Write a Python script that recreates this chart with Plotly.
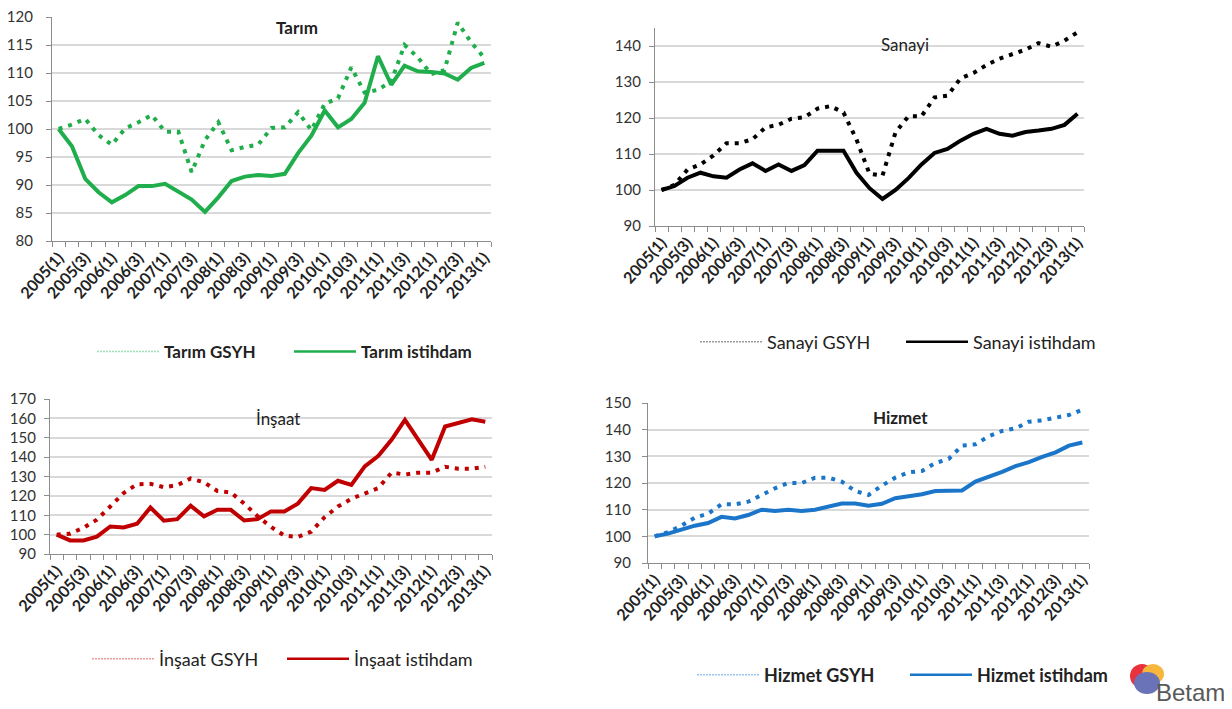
import plotly.graph_objects as go

quarters = [f"{y}({q})" for y in range(2005, 2013) for q in range(1, 5)] + ["2013(1)"]
tick_labels = quarters[::2]

tarim_gsyh = [100, 100.8, 101.8, 98.9, 97.2, 100.1, 101.2, 102.5, 99.5, 99.5, 92.3, 98.0, 101.2,
              96.2, 96.8, 97.2, 100.2, 100.3, 103.0, 99.8, 104.5, 105.5, 111.0, 106.5, 107.0,
              108.5, 115.0, 112.8, 109.8, 110.5, 119.0, 115.5, 112.7]
tarim_ist = [100, 96.9, 91.1, 88.7, 86.9, 88.2, 89.8, 89.8, 90.2, 88.8, 87.4, 85.2, 87.8,
             90.7, 91.5, 91.8, 91.6, 92.0, 95.7, 98.8, 103.3, 100.3, 101.8, 104.7, 113.0,
             107.9, 111.3, 110.3, 110.2, 109.9, 108.8, 110.9, 111.8]

sanayi_gsyh = [100, 101.4, 105.7, 107.1, 109.6, 113.0, 113.0, 114.1, 117.4, 118.1, 119.8, 120.2,
               122.6, 123.3, 121.5, 114.0, 104.5, 104.0, 116.0, 120.5, 120.5, 125.7, 126.2,
               131.0, 132.5, 134.7, 136.5, 137.8, 139.0, 140.8, 139.8, 141.5, 143.8]
sanayi_ist = [100, 101.1, 103.4, 104.8, 103.8, 103.4, 105.7, 107.4, 105.3, 107.1, 105.3, 106.9,
              110.9, 110.9, 110.9, 104.8, 100.5, 97.5, 100.0, 103.3, 107.1, 110.3, 111.4,
              113.7, 115.6, 117.0, 115.6, 115.1, 116.1, 116.5, 117.0, 118.1, 121.2]

insaat_gsyh = [100, 100.5, 103.5, 107.7, 114.5, 121.5, 126.0, 126.2, 124.5, 125.5, 129.0, 127.0,
               122.5, 121.8, 116.0, 109.5, 104.0, 99.5, 98.8, 101.5, 109.0, 114.5, 118.5,
               121.0, 124.0, 132.0, 131.0, 132.0, 132.0, 135.0, 134.0, 134.0, 135.0]
insaat_ist = [100, 97.0, 97.0, 99.0, 104.2, 103.7, 105.6, 114.0, 107.2, 108.0, 114.9, 109.4,
              112.8, 112.8, 107.3, 108.0, 112.0, 112.0, 116.0, 124.0, 123.1, 127.8, 125.7,
              135.2, 140.6, 148.9, 159.2, 148.9, 138.6, 155.8, 157.8, 159.5, 158.3]

hizmet_gsyh = [100, 101.6, 104.0, 107.0, 108.5, 112.0, 112.0, 113.0, 115.5, 118.0, 120.0, 120.0,
               122.0, 122.0, 120.5, 117.0, 115.5, 119.0, 122.0, 124.0, 124.5, 127.5, 129.0,
               134.0, 134.5, 137.5, 139.5, 140.5, 143.0, 143.5, 144.5, 145.5, 147.5]
hizmet_ist = [100, 101.0, 102.5, 104.0, 105.0, 107.3, 106.7, 108.0, 110.0, 109.5, 110.0, 109.5,
              110.0, 111.3, 112.3, 112.3, 111.5, 112.2, 114.3, 115.0, 115.8, 117.0, 117.2,
              117.2, 120.5, 122.2, 124.2, 126.3, 127.8, 129.8, 131.5, 134.0, 135.2]

W, H = 1232, 709
OFF = 8
FONT = "Lato"

def px(x):
    return (x - OFF) / W

def py(y):
    return 1 - (y - OFF) / H

panels = [
    dict(name="Tarım", gsyh=tarim_gsyh, ist=tarim_ist, color="#1fae4b", light="#9fe0b5",
         xd=(52, 491), yd=(17, 241), yr=(80, 120), dt=5, tpos=(297, 28), bold=True,
         ly=352, lx=84, ew=120, so=10, lfs=17),
    dict(name="Sanayi", gsyh=sanayi_gsyh, ist=sanayi_ist, color="#000000", light="#9a9a9a",
         xd=(655, 1084), yd=(28, 226), yr=(90, 145), dt=10, tpos=(905, 44), bold=False,
         ly=342, lx=687, ew=129, so=5, lfs=18),
    dict(name="İnşaat", gsyh=insaat_gsyh, ist=insaat_ist, color="#c00000", light="#ee9a9a",
         xd=(50, 492), yd=(399, 554), yr=(90, 170), dt=10, tpos=(278, 418), bold=False,
         ly=659, lx=79, ew=118, so=5, lfs=18),
    dict(name="Hizmet", gsyh=hizmet_gsyh, ist=hizmet_ist, color="#1b75c9", light="#9cc6ee",
         xd=(648, 1089), yd=(403, 563), yr=(90, 150), dt=10, tpos=(900, 417), bold=True,
         ly=675, lx=684, ew=136, so=8, lfs=18),
]

fig = go.Figure()
x = list(range(len(quarters)))
annotations = []
layout = {}
for i, p in enumerate(panels, start=1):
    xa = "x" if i == 1 else f"x{i}"
    ya = "y" if i == 1 else f"y{i}"
    lg = "legend" if i == 1 else f"legend{i}"
    fig.add_trace(go.Scatter(x=x, y=p["gsyh"], mode="lines", xaxis=xa, yaxis=ya,
                             line=dict(color=p["color"], width=4, dash="4px,6px"),
                             showlegend=False, hoverinfo="skip"))
    fig.add_trace(go.Scatter(x=x, y=p["ist"], mode="lines", xaxis=xa, yaxis=ya,
                             line=dict(color=p["color"], width=4),
                             showlegend=False, hoverinfo="skip"))
    fig.add_trace(go.Scatter(x=[None], y=[None], mode="lines", xaxis=xa, yaxis=ya,
                             name=f"{p['name']} GSYH", legend=lg,
                             line=dict(color=p["light"], width=1.5, dash="2px,1px")))
    fig.add_trace(go.Scatter(x=[None], y=[None], mode="lines", xaxis=xa, yaxis=ya,
                             name=f"{p['name']} istihdam", legend=lg,
                             line=dict(color=p["color"], width=2.5)))
    xk = "xaxis" if i == 1 else f"xaxis{i}"
    yk = "yaxis" if i == 1 else f"yaxis{i}"
    layout[xk] = dict(domain=[px(p["xd"][0]), px(p["xd"][1])], anchor=ya,
                      range=[-0.5, len(quarters) - 0.5], automargin=False,
                      tickvals=x[::2], ticktext=tick_labels, tickangle=-48,
                      ticklabeloverflow="allow",
                      ticks="", showgrid=False, zeroline=False,
                      showline=True, linecolor="#8c8c8c", linewidth=1.2,
                      tickfont=dict(family=FONT, size=16, color="#222222", weight="bold"),
                      minor=dict(ticks="outside", tick0=-0.5, dtick=1, ticklen=5,
                                 tickcolor="#8c8c8c", tickwidth=1, showgrid=False),
                      fixedrange=True)
    layout[yk] = dict(domain=[py(p["yd"][1]), py(p["yd"][0])], anchor=xa,
                      range=list(p["yr"]), dtick=p["dt"], tick0=p["yr"][0], automargin=False,
                      ticklabeloverflow="allow",
                      showgrid=True, gridcolor="#d9d9d9", gridwidth=1.5,
                      zeroline=False, showline=True, linecolor="#8c8c8c", linewidth=1.2,
                      ticks="outside", ticklen=5, tickcolor="#8c8c8c", ticklabelstandoff=p["so"],
                      tickfont=dict(family=FONT, size=15, color="#333333"),
                      fixedrange=True)
    layout[lg] = dict(orientation="h", x=p["lx"] / W, y=py(p["ly"]), xanchor="left",
                      yanchor="middle", xref="paper", yref="paper",
                      itemwidth=62, entrywidth=p["ew"], bgcolor="rgba(0,0,0,0)",
                      font=dict(family=FONT, size=p["lfs"], color="#222222",
                                weight="bold" if p["bold"] else "normal"))
    annotations.append(dict(text=p["name"], x=px(p["tpos"][0]), y=py(p["tpos"][1]),
                            xref="paper", yref="paper", showarrow=False,
                            xanchor="center", yanchor="middle",
                            font=dict(family=FONT, size=17, color="#222222",
                                      weight="bold" if p["bold"] else "normal")))

annotations.append(dict(text="Betam", x=px(1190), y=py(692), xref="paper", yref="paper",
                        showarrow=False, xanchor="center", yanchor="middle",
                        font=dict(family="Liberation Sans Narrow, Liberation Sans", size=24, color="#595959")))
shapes = [
    dict(type="circle", xref="paper", yref="paper", x0=px(1130), x1=px(1154), y0=py(688), y1=py(664),
         fillcolor="#e8323c", line=dict(width=0)),
    dict(type="circle", xref="paper", yref="paper", x0=px(1142), x1=px(1164), y0=py(684), y1=py(664),
         fillcolor="#f6b73c", line=dict(width=0)),
    dict(type="circle", xref="paper", yref="paper", x0=px(1134), x1=px(1160), y0=py(694), y1=py(672),
         fillcolor="#6a73b8", line=dict(width=0)),
]

fig.update_layout(width=W, height=H, margin=dict(l=0, r=0, t=0, b=0, autoexpand=False),
                  paper_bgcolor="white", plot_bgcolor="white",
                  annotations=annotations, shapes=shapes, **layout)

fig.write_html("out.html")
